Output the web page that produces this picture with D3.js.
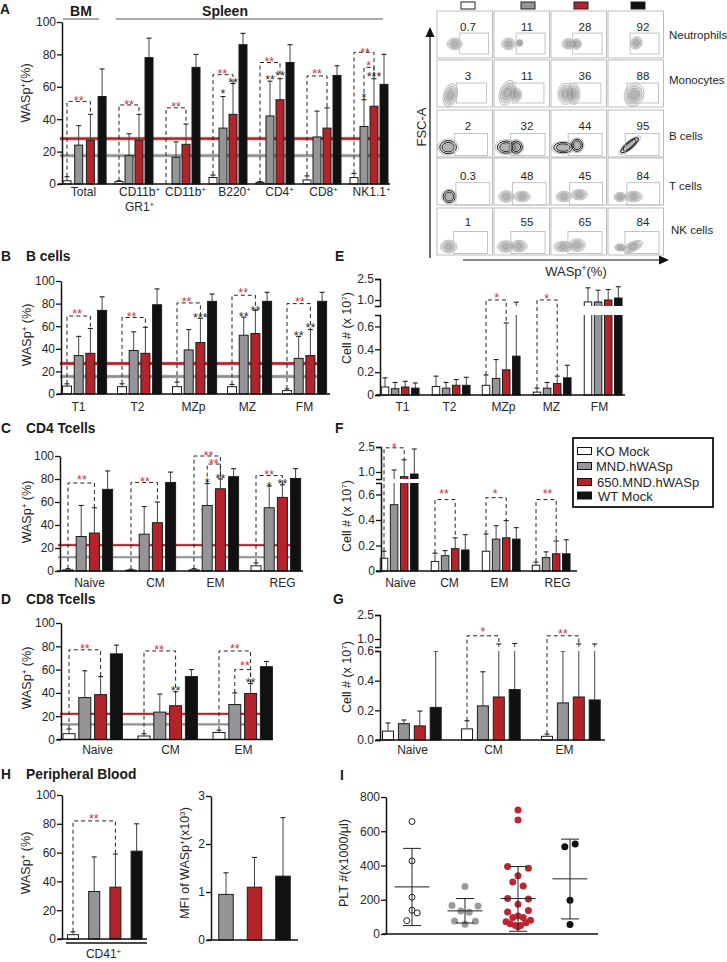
<!DOCTYPE html>
<html><head><meta charset="utf-8">
<script src="https://cdn.jsdelivr.net/npm/d3@7/dist/d3.min.js"></script>
<style>html,body{margin:0;padding:0;background:#fff}svg{display:block}text{font-family:"Liberation Sans",Arial,sans-serif}</style>
</head><body><svg id="c" width="727" height="962"></svg>
<script>
// ---------- DATA ----------
const seriesNames = ["KO Mock","MND.hWASp","650.MND.hWASp","WT Mock"];

const aCategories = ["Total","CD11b⁺|GR1⁺","CD11b⁺","B220⁺","CD4⁺","CD8⁺","NK1.1⁺"];
const aKO  = [2,1.5,0,4,1,2.5,4];        const aKOErr  = [4.5,2,0,5.5,1.5,5,6.5];
const aMND = [24,17.5,16.5,34.5,42,29,35.5]; const aMNDErr = [36,31,26,54,63.5,45,52];
const a650 = [27,27,24.5,43,52,34.5,48];  const a650Err = [43,43,37,62,65,47,65];
const aWT  = [54,78,72,86,75,67,61.5];    const aWTErr  = [71,90,80,93,86,73,80];
const aRefs = [28,17.5];
const aBrackets = [[0,0,2,51],[1,0,2,48.8],[2,0,2,47],[3,0,2,67.5],[4,0,2,75],[5,0,2,66.7],[6,0,2,81.3],[6,1,2,72]];
const aStars = [[0,1,52.7,"**",1],[1,1,50.6,"**",1],[2,1,48.8,"**",1],[3,.93,69.7,"**",1],[4,.93,77,"**",1],[5,1,69.7,"**",1],[6,1.1,82.7,"**",1],[6,1.47,74.3,"*",1],
  [3,1,57,"*",0],[3,2,63.6,"**",0],[4,1,65.9,"**",0],[4,2,68.4,"**",0],[6,1,54.8,"*",0],[6,2,67.5,"***",0]];

const bCategories = ["T1","T2","MZp","MZ","FM"];
const bKO  = [7,6.5,6.5,6.5,3];     const bKOErr  = [9,9,10.5,8.5,4.5];
const bMND = [34,38.5,39,52,31.5];  const bMNDErr = [51,55,57,68,51];
const b650 = [36,36,45.5,53.5,34];  const b650Err = [58,59,67,74,57];
const bWT  = [74,79,82,82,82];      const bWTErr  = [86,93,88.5,90,90];
const bRefs = [27,15.5];
const bBrackets = [[0,0,2,69],[1,0,2,67.7],[2,0,2,80.6],[3,0,2,87.4],[4,0,2,80]];
const bStars = [[0,.87,73,"**",1],[1,.82,70.7,"**",1],[2,.82,83.6,"**",1],[3,.96,91.8,"**",1],[4,1.1,83.9,"**",1],
  [2,2,69.5,"***",0],[3,1,70.7,"**",0],[3,2,76,"**",0],[4,1,53.7,"**",0],[4,2,60.4,"**",0]];

const cCategories = ["Naive","CM","EM","REG"];
const cKO  = [1,.8,1,4.5];     const cKOErr  = [2,1.5,2,7];
const cMND = [30,32,57,55];    const cMNDErr = [57,56,76,74];
const c650 = [33,42,71.5,64];  const c650Err = [55,60,80,75];
const cWT  = [71,77,82,80.5];  const cWTErr  = [87,86,89,89];
const cRefs = [22.5,12];
const cBrackets = [[0,0,2,76.5],[1,0,2,77],[2,0,2,100],[2,1,2,93],[3,0,2,83]];
const cStars = [[0,1.06,81,"**",1],[1,1.06,80,"**",1],[2,1.1,102.6,"**",1],[2,1.5,95,"**",1],[3,1,86,"**",1],
  [2,1,78.5,"*",0],[2,2,82.6,"**",0],[3,1,75.6,"*",0],[3,2,77.6,"**",0]];

const dCategories = ["Naive","CM","EM"];
const dKO  = [5,3,6];        const dKOErr  = [9,5,8];
const dMND = [36,23.5,30];   const dMNDErr = [59,39,40];
const d650 = [38.5,29,39.5]; const d650Err = [54,41,48];
const dWT  = [73.5,54,62.5]; const dWTErr  = [81,60,67];
const dRefs = [22,13];
const dBrackets = [[0,0,2,77],[1,0,2,76],[2,0,2,76],[2,1,2,60]];
const dStars = [[0,1,80,"**",1],[1,.95,79,"**",1],[2,1,80,"**",1],[2,1.64,65.5,"**",1],[1,2,44,"**",0],[2,2,50.8,"**",0]];

const eCategories = bCategories;
const eKO  = [.07,.075,.085,.025,.86];  const eKOErr  = [.15,.165,.175,.06,1.87];
const eMND = [.055,.06,.145,.06,.86];   const eMNDErr = [.11,.11,.31,.11,1.7];
const e650 = [.07,.085,.22,.1,1.0];     const e650Err = [.12,.135,.63,.165,1.75];
const eWT  = [.06,.085,.34,.15,1.14];   const eWTErr  = [.105,.155,.84,.26,1.95];
const eBrackets = [[2,0,2,1.0],[3,0,2,1.0]];
const eStars = [[2,1.05,1.3,"*",1],[3,.95,1.24,"*",1]];

const fCategories = cCategories;
const fKO  = [.1,.075,.155,.045];   const fKOErr  = [.155,.14,.29,.07];
const fMND = [.52,.12,.25,.105];    const fMNDErr = [1.12,.16,.355,.15];
const f650 = [.72,.175,.26,.135];   const f650Err = [1.73,.26,.395,.235];
const fWT  = [.88,.165,.25,.135];   const fWTErr  = [2.38,.285,.34,.245];
const fBrackets = [[0,0,2,2.45],[1,0,2,.56],[2,0,2,.575],[3,0,2,.56]];
const fStars = [[0,1,2.62,"*",1],[1,.9,.62,"**",1],[2,.9,.62,"*",1],[3,1.15,.62,"**",1]];

const gCategories = dCategories;
const gKO  = [.06,.075,.025];  const gKOErr  = [.115,.13,.04];
const gMND = [.11,.23,.25];    const gMNDErr = [.135,.46,.6];
const g650 = [.095,.29,.29];   const g650Err = [.195,.69,.69];
const gWT  = [.22,.34,.27];    const gWTErr  = [.6,.72,.69];
const gBrackets = [[1,0,2,1.2],[2,0,2,1.2]];
const gStars = [[1,1,1.62,"*",1],[2,1,1.44,"**",1]];

const hCategories = ["CD41⁺"];
const hKO=[3], hKOErr=[5], hMND=[33], hMNDErr=[57], h650=[36], h650Err=[59], hWT=[61], hWTErr=[80];
const hBrackets = [[0,0,2,82]];
const hStars = [[0,.98,85,"**",1]];

const mfiMeans = [0.95,1.1,1.33];
const mfiErrs  = [1.4,1.72,2.55];

const pltKO  = [657,427,215,139,123,78];
const pltMND = [277,166,164,135,127,76,74,57];
const plt650 = [724,665,394,384,340,304,281,207,205,174,137,129,105,96,96,80,72,66,60,49,49,43];
const pltWT  = [525,509,197,55];
const pltMean  = [275,135,207,322];
const pltUpper = [500,207,394,554];
const pltLower = [49,64,16,88];

const flowRowNames = ["Neutrophils","Monocytes","B cells","T cells","NK cells"];
const flowPercent = [["0.7","11","28","92"],["3","11","36","88"],["2","32","44","95"],["0.3","48","45","84"],["1","55","65","84"]];
// populations: WASp %, FSC %, spreadX, spreadY, tilt
const flowClusters = [
 [[[32,70,11,10,0]],[[26,70,10,10,0],[46,68,5,6,0]],[[32,70,10,9,0],[46,70,7,9,0]],[[51,68,8,11,30]]],
 [[[24,75,10,20,15]],[[24,70,11,22,20],[40,74,8,12,0]],[[26,72,11,18,0],[41,72,9,18,0]],[[47,74,14,20,20]]],
 [[[20,79,15,14,0]],[[22,79,16,13,0],[40,79,11,13,0]],[[22,80,17,11,0],[47,75,10,13,0]],[[39,75,20,7,-40]]],
 [[[22,82,11,13,0]],[[22,82,11,10,0],[51,82,12,9,0]],[[23,82,11,9,0],[51,78,12,9,0]],[[22,83,9,8,0],[46,82,13,9,0]]],
 [[[21,82,12,11,0]],[[21,82,12,10,0],[45,81,12,10,0]],[[22,82,14,9,0],[47,79,12,11,0]],[[45,82,15,8,-25],[22,84,8,6,0]]]
];

// ---------- STYLE & LAYOUT ----------
const seriesFill = ["#ffffff","#949499","#b2232a","#111111"];
const RED = "#c6363c", INK = "#262626";
const swarmSlots = [
 [0,0,0,0,1,-1],
 [0,-2.5,2.5,-.8,.8,-2,2,0],
 [0,0,-2,2,0,-1,1,-2,2,0,2,-2,0,-1,1,2.4,-2.3,1.5,-1.5,-.5,.5,0],
 [1,-1,0,0]
];
const flowColX = [437,494,551,608], flowRowY = [11,60,110,158,208], flowW = 55.5, flowH = 47;
const gateL = [[41,40,39,40],[35,33,33.5,34],[32,30,31,31],[34,33.5,33.5,34],[30,30.5,30.5,30.5]];
const gateR = [[93,92,92,92],[89,90,90,91],[91,92,92,92],[95,94,93,93],[91,92,92,92]];
const gateT = [47,49,50,52.5,50], gateB = [91.5,91.5,97,100,97];

const svg = d3.select("#c");

function rich(sel, str){
  sel.text(null);
  const map = {"⁺":"+","⁷":"7","³":"3"};
  let pending = false;
  str.split(/([⁺⁷³])/).forEach(p=>{
    if(!p) return;
    const t = sel.append("tspan");
    if(map[p]){ t.text(map[p]).attr("dy","-0.4em").style("font-size","65%"); pending = true; }
    else { t.text(p); if(pending){ t.attr("dy","0.26em"); pending=false; } }
  });
}
function label(x,y,str,size,opts={}){
  const t = svg.append("text").attr("x",x).attr("y",y).attr("font-size",size)
    .attr("fill",opts.fill||INK).attr("font-weight",opts.bold?"bold":null)
    .attr("text-anchor",opts.anchor||"start").attr("dominant-baseline","central");
  if(opts.rotate) t.attr("transform",`rotate(-90 ${x} ${y})`).attr("text-anchor","middle");
  rich(t,str);
  return t;
}
function styleAxis(g){
  g.selectAll("path").attr("stroke","#111").attr("stroke-width",1.5).attr("fill","none");
  g.selectAll("line").attr("stroke","#111").attr("stroke-width",1.3);
  g.selectAll("text").attr("font-size",12).attr("fill",INK).attr("font-family",'"Liberation Sans",Arial,sans-serif');
}

function barPanel(p){
  const g = svg.append("g");
  let y, axes;
  if(p.broken){
    const b = p.broken;
    const lower = d3.scaleLinear().domain([0,b.split]).range([p.y0,b.lowTop]);
    const upper = d3.scaleLinear().domain([b.upBottom,2.5]).range([b.upY,b.top]);
    y = v => v<=b.split ? lower(v) : upper(v);
    axes = [[lower,b.lowTicks],[upper,[1,2.5]]];
  } else {
    const s = d3.scaleLinear().domain([0,p.max]).range([p.y0,p.top]);
    y = s; axes = [[s,p.ticks]];
  }
  const gx = d3.scaleOrdinal(p.categories,p.groupX);
  const step = p.groupStep || p.categories.map(()=>p.step);
  const xAt = (gi,s)=> gx(p.categories[gi]) + d3.scaleLinear([0,1],[0,step[gi]])(s);

  // reference lines sit behind the bars
  if(p.refs) p.refs.forEach((v,i)=>{
    const col = i===0?"#b2232a":"#8f8f93";
    g.append("line").attr("x1",p.refX[0]).attr("x2",p.refX[1]).attr("y1",y(v)).attr("y2",y(v))
      .attr("stroke",col).attr("stroke-opacity",.45).attr("stroke-width",p.refW);
    g.append("line").attr("x1",p.refX[0]).attr("x2",p.refX[1]).attr("y1",y(v)).attr("y2",y(v))
      .attr("stroke",col).attr("stroke-width",p.refW-1.2);
  });
  // bars + whiskers
  const rows = [];
  p.means.forEach((arr,si)=>arr.forEach((m,gi)=>rows.push({gi,si,m,e:p.errs[si][gi],c:(p.colorIdx||[0,1,2,3])[si]})));
  const item = g.selectAll("g.b").data(rows.filter(d=>d.m>0)).join("g").attr("class","b");
  item.append("line").attr("x1",d=>xAt(d.gi,d.si)).attr("x2",d=>xAt(d.gi,d.si)).attr("y1",d=>y(d.m)).attr("y2",d=>y(d.e))
    .attr("stroke","#444").attr("stroke-width",1);
  item.append("line").attr("x1",d=>xAt(d.gi,d.si)-2.5).attr("x2",d=>xAt(d.gi,d.si)+2.5).attr("y1",d=>y(d.e)).attr("y2",d=>y(d.e))
    .attr("stroke","#222").attr("stroke-width",1.1);
  item.append("rect").attr("x",d=>xAt(d.gi,d.si)-p.barW/2).attr("width",p.barW)
    .attr("y",d=>y(d.m)).attr("height",d=>p.y0-y(d.m))
    .attr("fill",d=>seriesFill[d.c]).attr("stroke","#1c1c1c").attr("stroke-width",1);
  // axis break
  if(p.broken){
    g.append("rect").attr("x",p.axisX+2).attr("width",p.xEnd-p.axisX).attr("y",p.broken.upY).attr("height",p.broken.lowTop-p.broken.upY).attr("fill","#fff");
  }
  // brackets
  if(p.brackets) p.brackets.forEach(([gi,a,b,top])=>{
    g.append("path").attr("fill","none").attr("stroke","#222").attr("stroke-width",1).attr("stroke-dasharray","4,3")
      .attr("d",d3.line()([[xAt(gi,a),y(p.errs[a][gi])],[xAt(gi,a),y(top)],[xAt(gi,b),y(top)],[xAt(gi,b),y(p.errs[b][gi])]]));
  });
  if(p.stars) p.stars.forEach(([gi,s,v,txt,red])=>{
    g.append("text").attr("x",xAt(gi,s)).attr("y",y(v)+6.5).attr("text-anchor","middle").attr("font-size",12.5)
      .attr("fill",red?RED:"#2b2b2b").text(txt);
  });
  // axes
  axes.forEach(([s,ticks])=>{
    const ax = g.append("g").attr("transform",`translate(${p.axisX},0)`)
      .call(d3.axisLeft(s).tickValues(ticks).tickFormat(p.tickFormat||d3.format("d")).tickSize(5).tickPadding(1).tickSizeOuter(p.broken?5:0));
    styleAxis(ax);
  });
  g.append("line").attr("x1",p.xStart).attr("x2",p.xEnd).attr("y1",p.y0).attr("y2",p.y0).attr("stroke","#111").attr("stroke-width",1.6);
  if(p.labelX){
    const xAxis = g.append("g").attr("transform",`translate(0,${p.y0})`)
      .call(d3.axisBottom(d3.scaleOrdinal(p.categories,p.labelX)).tickSize(0).tickPadding(p.labelPad||3));
    xAxis.select("path").remove();
    styleAxis(xAxis);
    xAxis.selectAll("text").each(function(d){
      const t = d3.select(this), parts = d.split("|");
      const x0 = 0, y0 = +t.attr("y"), dy = t.attr("dy");
      t.text(null);
      parts.forEach((ln,i)=>{
        const s = t.append("tspan").attr("x",x0).attr("y",y0+i*15).attr("dy",dy);
        rich(s,ln);
      });
    });
  }
  if(p.ylabel) label(p.ylabel[1],p.ylabel[2],p.ylabel[0],12.5,{rotate:true});
}

barPanel({categories:aCategories,means:[aKO,aMND,a650,aWT],errs:[aKOErr,aMNDErr,a650Err,aWTErr],refs:aRefs,brackets:aBrackets,stars:aStars,
  max:100,ticks:[0,20,40,60,80,100],y0:184,top:22,axisX:62,xStart:58,xEnd:390,barW:8,step:10,
  groupX:[67,119,166,213,260,307,354],groupStep:[11.7,10,10,10,10,10,10],labelX:[83,139,185,234,279,323,371],
  refX:[60,380],refW:3.6,ylabel:["WASp⁺(%)",26,93]});
barPanel({categories:bCategories,means:[bKO,bMND,b650,bWT],errs:[bKOErr,bMNDErr,b650Err,bWTErr],refs:bRefs,brackets:bBrackets,stars:bStars,
  max:100,ticks:[0,20,40,60,80,100],y0:394,top:281,axisX:61,xStart:57,xEnd:330,barW:9,step:11.7,labelPad:8,
  groupX:[67,122,177,232,287],labelX:[78,137,193,247,304],refX:[60,318],refW:3.6,ylabel:["WASp⁺ (%)",27,335]});
barPanel({categories:cCategories,means:[cKO,cMND,c650,cWT],errs:[cKOErr,cMNDErr,c650Err,cWTErr],refs:cRefs,brackets:cBrackets,stars:cStars,
  max:100,ticks:[0,20,40,60,80,100],y0:571,top:456,axisX:60,xStart:57,xEnd:303,barW:10,step:13.2,labelPad:7,
  groupX:[68,131,194,256],labelX:[89,155,215,282],refX:[58,290],refW:2.8,ylabel:["WASp⁺ (%)",27,512]});
barPanel({categories:dCategories,means:[dKO,dMND,d650,dWT],errs:[dKOErr,dMNDErr,d650Err,dWTErr],refs:dRefs,brackets:dBrackets,stars:dStars,
  max:100,ticks:[0,20,40,60,80,100],y0:739.5,top:623,axisX:61,xStart:57,xEnd:273,barW:12,step:15.8,labelPad:5.5,
  groupX:[69,144,219],labelX:[97,170,243],refX:[60,260],refW:2.8,ylabel:["WASp⁺ (%)",27,678]});

const oneDec = d=> d===0?"0":d3.format(".1f")(d);
barPanel({categories:eCategories,means:[eKO,eMND,e650,eWT],errs:[eKOErr,eMNDErr,e650Err,eWTErr],brackets:eBrackets,stars:eStars,
  broken:{split:.7,lowTop:315,upBottom:.57,upY:306,top:279,lowTicks:[0,.2,.4,.6]},tickFormat:oneDec,labelPad:7,
  y0:395,axisX:380,xStart:376,xEnd:625,barW:7.5,step:10.1,groupX:[385,436,486,537,588],labelX:[402,449,503,551,599],ylabel:["Cell # (x 10⁷)",347,328]});
barPanel({categories:fCategories,means:[fKO,fMND,f650,fWT],errs:[fKOErr,fMNDErr,f650Err,fWTErr],brackets:fBrackets,stars:fStars,
  broken:{split:.69,lowTop:483,upBottom:.58,upY:479,top:447,lowTicks:[0,.2,.4,.6]},tickFormat:oneDec,labelPad:7,
  y0:571,axisX:381,xStart:376,xEnd:577,barW:7.5,step:10.1,groupX:[384,435,486,536],labelX:[400,449,499,557],ylabel:["Cell # (x 10⁷)",347,516]});
barPanel({categories:gCategories,means:[gKO,gMND,g650,gWT],errs:[gKOErr,gMNDErr,g650Err,gWTErr],brackets:gBrackets,stars:gStars,
  broken:{split:.6,lowTop:651,upBottom:.5,upY:647,top:615,lowTicks:[0,.2,.4,.6]},tickFormat:d=>d3.format(".1f")(d),labelPad:5,
  y0:740,axisX:380,xStart:376,xEnd:605,barW:11,step:15.9,groupX:[388,467,547],labelX:[412,493,564],ylabel:["Cell # (x 10⁷)",347,677]});

barPanel({categories:hCategories,means:[hKO,hMND,h650,hWT],errs:[hKOErr,hMNDErr,h650Err,hWTErr],brackets:hBrackets,stars:hStars,
  max:100,ticks:[0,20,40,60,80,100],y0:939,top:795,axisX:62,xStart:58,xEnd:147,barW:11,step:21.2,
  groupX:[73],labelX:[103],labelPad:10,ylabel:["WASp⁺ (%)",26,863]});
svg.append("line").attr("x1",66).attr("x2",147).attr("y1",943).attr("y2",943).attr("stroke","#111").attr("stroke-width",1.6);
barPanel({categories:["MFI"],means:[[mfiMeans[0]],[mfiMeans[1]],[mfiMeans[2]]],errs:[[mfiErrs[0]],[mfiErrs[1]],[mfiErrs[2]]],colorIdx:[1,2,3],
  max:3,ticks:[0,1,2,3],y0:940,top:796,axisX:211,xStart:207,xEnd:298,barW:14.5,step:28.5,
  groupX:[226],ylabel:["MFI of WASp⁺(x10³)",185,863]});

// ---------- Panel I ----------
(function(){
  const y = d3.scaleLinear().domain([0,800]).range([934,797]);
  const gx = d3.scaleOrdinal([0,1,2,3],[412,465,518,570]);
  const slot = d3.scaleLinear([0,1],[0,5.2]);
  const g = svg.append("g");
  [pltKO,pltMND,plt650,pltWT].forEach((vals,gi)=>{
    g.selectAll(null).data(vals.map((v,i)=>({v,o:swarmSlots[gi][i]}))).join("circle")
      .attr("cx",d=>gx(gi)+slot(d.o)).attr("cy",d=>y(d.v)).attr("r",gi===0?3:3.5)
      .attr("fill",gi===0?"#fff":["#fff","#9b9b9f","#bf2530","#111"][gi])
      .attr("stroke",gi===0?"#222":"none").attr("stroke-width",1);
    const segs = [[gx(gi),y(pltUpper[gi]),gx(gi),y(pltLower[gi])],
      [gx(gi)-17.5,y(pltMean[gi]),gx(gi)+17.5,y(pltMean[gi])],
      [gx(gi)-9,y(pltUpper[gi]),gx(gi)+9,y(pltUpper[gi])],
      [gx(gi)-9,y(pltLower[gi]),gx(gi)+9,y(pltLower[gi])]];
    g.selectAll(null).data(segs).join("line").attr("x1",d=>d[0]).attr("y1",d=>d[1]).attr("x2",d=>d[2]).attr("y2",d=>d[3])
      .attr("stroke","#222").attr("stroke-width",1);
  });
  styleAxis(g.append("g").attr("transform","translate(386,0)").call(d3.axisLeft(y).tickValues([0,200,400,600,800]).tickSize(5).tickPadding(1).tickSizeOuter(0)));
  g.append("line").attr("x1",382).attr("x2",598).attr("y1",934).attr("y2",934).attr("stroke","#111").attr("stroke-width",1.6);
  label(344,863,"PLT #(x1000/µl)",12.5,{rotate:true});
})();

// ---------- Flow grid ----------
(function(){
  const g = svg.append("g");
  flowRowNames.forEach((name,r)=>{
    flowColX.forEach((cx,c)=>{
      const sx = d3.scaleLinear([0,100],[cx,cx+flowW]);
      const sy = d3.scaleLinear([0,100],[flowRowY[r],flowRowY[r]+flowH]);
      g.append("rect").attr("x",sx(0)).attr("y",sy(0)).attr("width",flowW).attr("height",flowH).attr("fill","#fff").attr("stroke","#b5b5b5").attr("stroke-width",.9);
      const heavy = r===2 || (r===3 && c===0);
      flowClusters[r][c].forEach(([x,y,rx,ry,rot])=>{
        [1.25,1,.72,.45].forEach((f,i)=>{
          g.append("ellipse").attr("cx",sx(x)).attr("cy",sy(y))
            .attr("rx",rx*f*flowW/100).attr("ry",ry*f*flowH/100)
            .attr("transform",`rotate(${rot} ${sx(x)} ${sy(y)})`)
            .attr("fill","#777").attr("fill-opacity",i===0?.08:.2)
            .attr("stroke",heavy&&i>0&&i<3?"#1e1e1e":"#8a8a8a").attr("stroke-width",heavy&&i>0&&i<3?1:.5);
        });
      });
      g.append("rect").attr("x",sx(gateL[r][c])).attr("y",sy(gateT[r])).attr("width",sx(gateR[r][c])-sx(gateL[r][c])).attr("height",sy(gateB[r])-sy(gateT[r]))
        .attr("fill","none").attr("stroke","#bdbdbd").attr("stroke-width",.9);
    });
  });
  const numX=[468,527,585,643], numY=[27,76,126,176,222];
  flowPercent.forEach((row,r)=>row.forEach((v,c)=>label(numX[c],numY[r],v,11.5,{anchor:"middle"})));
  const nameY=[35,80,136,186,230], nameX=[669,669,669,669,671];
  flowRowNames.forEach((n,r)=>label(nameX[r],nameY[r],n,11.5));
  const swX=[461,521,574,631];
  seriesFill.forEach((f,i)=>g.append("rect").attr("x",swX[i]).attr("y",2).attr("width",14).attr("height",7).attr("fill",f).attr("stroke","#222").attr("stroke-width",1));
  // arrows
  g.append("line").attr("x1",430).attr("x2",430).attr("y1",258).attr("y2",36).attr("stroke","#111").attr("stroke-width",1.2);
  g.append("path").attr("d",d3.line()([[430,27],[425.5,37],[434.5,37]])+"Z").attr("fill","#111");
  g.append("line").attr("x1",463).attr("x2",660).attr("y1",260).attr("y2",260).attr("stroke","#111").attr("stroke-width",1.2);
  g.append("path").attr("d",d3.line()([[669,260],[659,255.5],[659,264.5]])+"Z").attr("fill","#111");
  label(421,127,"FSC-A",13,{rotate:true});
  label(576,271,"WASp⁺(%)",13,{anchor:"middle"});
})();

// ---------- Legend ----------
(function(){
  const g = svg.append("g");
  g.append("rect").attr("x",573).attr("y",438).attr("width",140).attr("height",69).attr("fill","#fff").attr("stroke","#111").attr("stroke-width",1.8);
  const ly = d3.scaleOrdinal(seriesNames,[451,466,482,495.5]);
  const tx = d3.scaleOrdinal(seriesNames,[596,596,597,598]);
  g.selectAll("rect.s").data(seriesNames).join("rect").attr("class","s").attr("x",577.5).attr("y",d=>ly(d)-3.5).attr("width",14).attr("height",7)
    .attr("fill",(d,i)=>seriesFill[i]).attr("stroke","#111").attr("stroke-width",1);
  seriesNames.forEach(n=>label(tx(n),ly(n),n,13));
})();

// ---------- Headers ----------
const heads = [["A",0,9],["B",1,256],["C",1,428],["D",1,599],["H",1,774],["E",335,256],["F",335,428],["G",333,599],["I",340,775],
  ["B cells",26,256],["CD4 Tcells",26,428],["CD8 Tcells",26,599],["Peripheral Blood",26,774]];
heads.forEach(([t,x,y])=>label(x,y,t,13.8,{bold:true,fill:"#1a1a1a"}));
label(81,11,"BM",14,{bold:true,anchor:"middle",fill:"#1a1a1a"});
label(225,11,"Spleen",14,{bold:true,anchor:"middle",fill:"#1a1a1a"});
[[63,99],[116,383]].forEach(([a,b])=>svg.append("line").attr("x1",a).attr("x2",b).attr("y1",19).attr("y2",19).attr("stroke","#555").attr("stroke-width",1));
</script></body></html>
